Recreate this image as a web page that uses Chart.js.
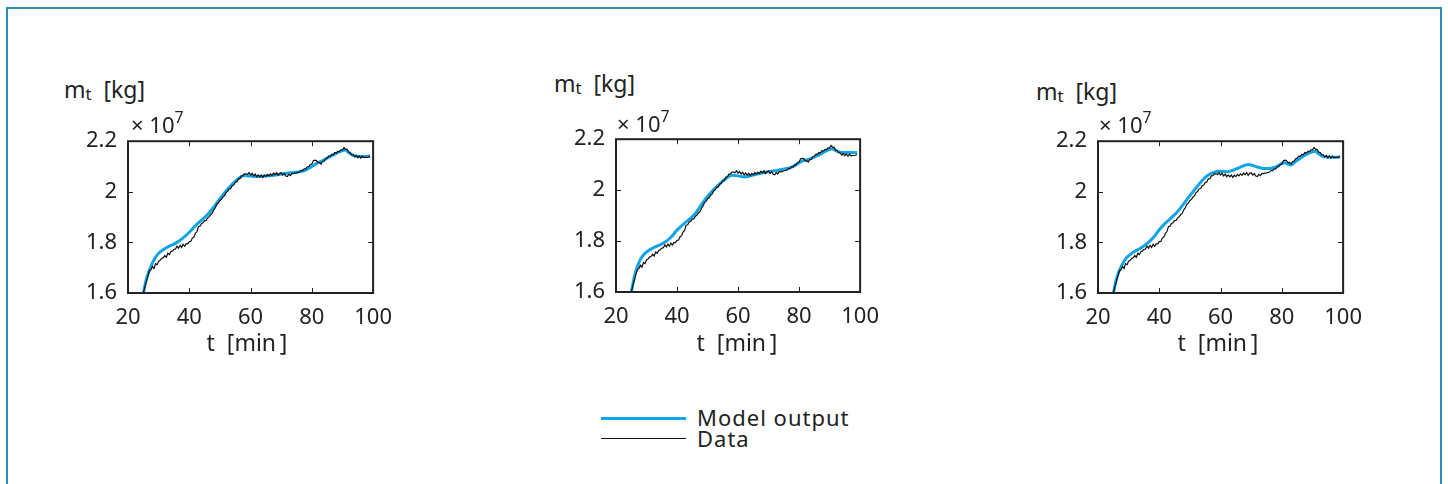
<!DOCTYPE html>
<html>
<head>
<meta charset="utf-8">
<script src="https://cdn.jsdelivr.net/npm/chart.js@4.4.1/dist/chart.umd.min.js"></script>
<style>
    body { margin: 0; width: 1448px; height: 484px; background: #fff; overflow: hidden; position: relative;
           font-family: "Noto Sans", sans-serif; color: #222; }
    .marco { position: absolute; left: 6px; top: 7px; width: 1432px; height: 600px;
             border: 2px solid #2b8cbe; border-bottom: none; }
    .graf { position: absolute; }
    .txt { position: absolute; white-space: nowrap; line-height: 1; }
    .txt sub { font-size: 0.72em; vertical-align: -0.15em; }
    .txt sup { font-size: 0.72em; vertical-align: 0.65em; }
    .ley-linea { position: absolute; left: 601px; width: 85px; }
</style>
</head>
<body>
<div class="marco"></div>

<div class="graf" id="graf1"></div>
<div class="graf" id="graf2"></div>
<div class="graf" id="graf3"></div>

<!-- titulos de ejes -->
<div class="txt" style="left:64px; top:78px; font-size:23px;">m<sub>t</sub>&nbsp; [kg]</div>
<div class="txt" style="left:131px; top:110px; font-size:22px;">× 10<sup>7</sup></div>
<div class="txt" style="left:247px; top:331px; font-size:23px; transform:translateX(-50%);">t &nbsp;[min&thinsp;]</div>

<div class="txt" style="left:554px; top:72px; font-size:23px;">m<sub>t</sub>&nbsp; [kg]</div>
<div class="txt" style="left:617px; top:109px; font-size:22px;">× 10<sup>7</sup></div>
<div class="txt" style="left:737px; top:331px; font-size:23px; transform:translateX(-50%);">t &nbsp;[min&thinsp;]</div>

<div class="txt" style="left:1036px; top:80px; font-size:23px;">m<sub>t</sub>&nbsp; [kg]</div>
<div class="txt" style="left:1099px; top:110px; font-size:22px;">× 10<sup>7</sup></div>
<div class="txt" style="left:1218px; top:331px; font-size:23px; transform:translateX(-50%);">t &nbsp;[min&thinsp;]</div>

<!-- leyenda -->
<div class="ley-linea" style="top:417px; border-top:3px solid #12a5e6;"></div>
<div class="ley-linea" style="top:438px; border-top:1px solid #111;"></div>
<div class="txt" style="left:697px; top:406px; font-size:22px; letter-spacing:1px;">Model output</div>
<div class="txt" style="left:697px; top:427px; font-size:22px; letter-spacing:1px;">Data</div>

<script>
// === DATOS ===
// Masa medida (x 10^7 kg), muestreada cada 0.5 min desde t = 25
const tInicioDatos = 25;
const pasoDatos = 0.5;
const masaDatos = [
    1.598, 1.625, 1.645, 1.668, 1.688, 1.692, 1.705, 1.697, 1.716, 1.712,
    1.726, 1.729, 1.737, 1.739, 1.748, 1.741, 1.757, 1.752, 1.763, 1.766,
    1.772, 1.774, 1.785, 1.777, 1.788, 1.780, 1.792, 1.785, 1.795, 1.794,
    1.803, 1.804, 1.817, 1.821, 1.836, 1.843, 1.863, 1.864, 1.875, 1.878,
    1.886, 1.887, 1.897, 1.901, 1.911, 1.915, 1.929, 1.937, 1.951, 1.956,
    1.966, 1.970, 1.980, 1.984, 1.997, 2.001, 2.012, 2.012, 2.024, 2.027,
    2.037, 2.039, 2.051, 2.052, 2.063, 2.064, 2.071, 2.071, 2.068, 2.076,
    2.066, 2.073, 2.063, 2.070, 2.060, 2.067, 2.059, 2.066, 2.057, 2.066,
    2.060, 2.069, 2.063, 2.071, 2.065, 2.074, 2.067, 2.076, 2.065, 2.073,
    2.075, 2.066, 2.072, 2.062, 2.060, 2.069, 2.064, 2.073, 2.072, 2.074,
    2.075, 2.077, 2.078, 2.085, 2.084, 2.091, 2.091, 2.099, 2.099, 2.108,
    2.110, 2.123, 2.125, 2.124, 2.115, 2.116, 2.110, 2.120, 2.121, 2.131,
    2.133, 2.141, 2.140, 2.148, 2.146, 2.155, 2.153, 2.160, 2.159, 2.166,
    2.166, 2.175, 2.168, 2.168, 2.157, 2.155, 2.147, 2.146, 2.138, 2.144,
    2.135, 2.142, 2.133, 2.141, 2.135, 2.136, 2.136, 2.137, 2.140
];

// Salida del modelo, una por cada panel
const tModelo = [25, 26, 27, 28, 29, 30, 32, 34, 36, 38, 40, 42, 44, 46, 48, 50, 52, 54, 56, 58,
                 60, 62, 64, 66, 68, 69, 70, 72, 74, 76, 78, 80, 81, 82, 83, 84, 86, 88, 90, 91,
                 92, 93, 94, 96, 98, 99];
const modelo1 = [1.598, 1.655, 1.690, 1.720, 1.742, 1.757, 1.775, 1.788, 1.800, 1.818, 1.840, 1.866,
                 1.888, 1.910, 1.940, 1.972, 2.003, 2.030, 2.052, 2.064, 2.062, 2.060, 2.061, 2.063,
                 2.066, 2.068, 2.070, 2.073, 2.076, 2.079, 2.086, 2.100, 2.108, 2.115, 2.120, 2.126,
                 2.140, 2.152, 2.163, 2.165, 2.155, 2.147, 2.142, 2.140, 2.140, 2.142];
const modelo2 = [1.598, 1.660, 1.700, 1.728, 1.745, 1.757, 1.772, 1.783, 1.795, 1.815, 1.843, 1.866,
                 1.885, 1.908, 1.943, 1.975, 2.002, 2.025, 2.045, 2.058, 2.056, 2.052, 2.056, 2.062,
                 2.068, 2.070, 2.072, 2.076, 2.080, 2.085, 2.092, 2.108, 2.114, 2.118, 2.121, 2.125,
                 2.135, 2.148, 2.160, 2.162, 2.155, 2.150, 2.148, 2.148, 2.147, 2.148];
const modelo3 = [1.598, 1.655, 1.690, 1.715, 1.735, 1.747, 1.765, 1.778, 1.795, 1.818, 1.850, 1.876,
                 1.898, 1.922, 1.953, 1.985, 2.015, 2.045, 2.066, 2.078, 2.081, 2.079, 2.085, 2.095,
                 2.105, 2.108, 2.106, 2.098, 2.092, 2.092, 2.098, 2.112, 2.115, 2.110, 2.106, 2.115,
                 2.133, 2.148, 2.158, 2.160, 2.150, 2.142, 2.138, 2.137, 2.137, 2.138];

// Ejes
const xMin = 20, xMax = 100, xPaso = 20;
const yMin = 1.6, yMax = 2.2, yPaso = 0.2;

// === UTILIDADES ===
function puntosDatos() {
    return masaDatos.map((v, i) => ({ x: tInicioDatos + i * pasoDatos, y: v }));
}

function puntosModelo(valores) {
    return tModelo.map((t, i) => ({ x: t, y: valores[i] }));
}

// Caja negra con marcas hacia adentro (estilo MATLAB)
const cajaEjes = {
    id: 'cajaEjes',
    afterDatasetsDraw(chart) {
        const { ctx, chartArea: a, scales: { x, y } } = chart;
        ctx.save();
        ctx.strokeStyle = '#222';
        ctx.lineWidth = 1;
        ctx.beginPath();
        x.ticks.forEach(t => {
            const px = Math.round(x.getPixelForValue(t.value)) + 0.5;
            ctx.moveTo(px, a.bottom); ctx.lineTo(px, a.bottom - 5);
            ctx.moveTo(px, a.top); ctx.lineTo(px, a.top + 5);
        });
        y.ticks.forEach(t => {
            const py = Math.round(y.getPixelForValue(t.value)) + 0.5;
            ctx.moveTo(a.left, py); ctx.lineTo(a.left + 5, py);
            ctx.moveTo(a.right, py); ctx.lineTo(a.right - 5, py);
        });
        ctx.stroke();
        ctx.lineWidth = 2;
        ctx.strokeRect(a.left, a.top, a.right - a.left, a.bottom - a.top);
        ctx.restore();
    }
};

// === GRAFICOS ===
function crearGrafico(id, area, modelo) {
    const padTop = 16, padRight = 30, anchoY = 60, altoX = 45;
    const w = area.r - area.l + anchoY + padRight;
    const h = area.b - area.t + padTop + altoX;

    const wrap = document.getElementById(id);
    wrap.style.left = (area.l - anchoY) + 'px';
    wrap.style.top = (area.t - padTop) + 'px';
    const canvas = document.createElement('canvas');
    canvas.width = w;
    canvas.height = h;
    wrap.appendChild(canvas);

    new Chart(canvas, {
        type: 'line',
        data: {
            datasets: [
                {
                    label: 'Data',
                    data: puntosDatos(),
                    borderColor: '#111',
                    borderWidth: 1.2,
                    pointRadius: 0,
                    tension: 0
                },
                {
                    label: 'Model output',
                    data: puntosModelo(modelo),
                    borderColor: '#12a5e6',
                    borderWidth: 3,
                    pointRadius: 0,
                    cubicInterpolationMode: 'monotone'
                }
            ]
        },
        options: {
            responsive: false,
            animation: false,
            devicePixelRatio: 1,
            layout: { padding: { top: padTop, right: padRight, left: 0, bottom: 0 } },
            plugins: { legend: { display: false }, tooltip: { enabled: false } },
            scales: {
                x: {
                    type: 'linear',
                    min: xMin, max: xMax,
                    afterFit: s => { s.height = altoX; },
                    grid: { display: false, drawTicks: false },
                    border: { display: false },
                    ticks: { stepSize: xPaso, padding: 12, color: '#222',
                             font: { family: 'Noto Sans', size: 22 }, maxRotation: 0 }
                },
                y: {
                    min: yMin, max: yMax,
                    afterFit: s => { s.width = anchoY; },
                    grid: { display: false, drawTicks: false },
                    border: { display: false },
                    ticks: { stepSize: yPaso, padding: 11, color: '#222',
                             font: { family: 'Noto Sans', size: 22 },
                             callback: v => String(Math.round(v * 10) / 10) }
                }
            }
        },
        plugins: [cajaEjes]
    });
}

crearGrafico('graf1', { l: 128, t: 133, r: 374, b: 293 }, modelo1);
crearGrafico('graf2', { l: 616, t: 131, r: 861, b: 292 }, modelo2);
crearGrafico('graf3', { l: 1098, t: 133, r: 1344, b: 293 }, modelo3);
</script>
</body>
</html>
